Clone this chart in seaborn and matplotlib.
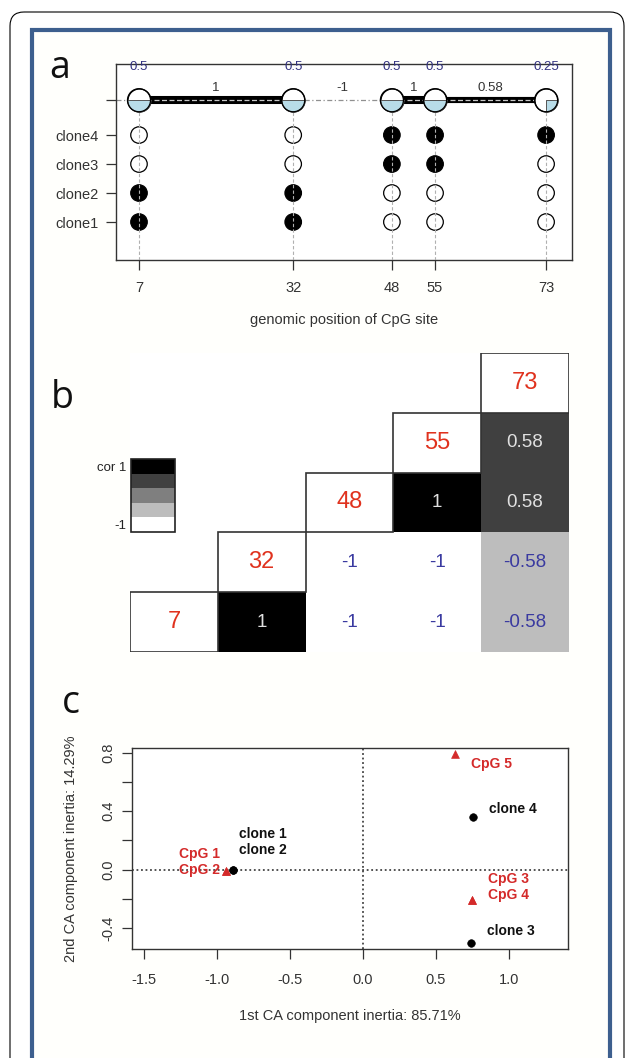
import numpy as np
import pandas as pd
import matplotlib.pyplot as plt
import seaborn as sns
from matplotlib.colors import ListedColormap
from matplotlib.markers import MarkerStyle
from matplotlib.path import Path
from matplotlib.patches import FancyBboxPatch, Rectangle

sns.set_style('white')
plt.rcParams['font.family'] = ['Liberation Sans', 'DejaVu Sans']

# ---- data ----
sites = [7, 32, 48, 55, 73]
clones = ['clone1', 'clone2', 'clone3', 'clone4']
# methylation state per clone (rows) and CpG site (columns)
meth = [[1, 1, 0, 0, 0],
        [1, 1, 0, 0, 0],
        [0, 0, 1, 1, 0],
        [0, 0, 1, 1, 1]]
meth_frac = [0.5, 0.5, 0.5, 0.5, 0.25]
neighbour_cor = [1, -1, 1, 0.58]
cor_matrix = [[1, 1, -1, -1, -0.58],
              [1, 1, -1, -1, -0.58],
              [-1, -1, 1, 1, 0.58],
              [-1, -1, 1, 1, 0.58],
              [-0.58, -0.58, 0.58, 0.58, 1]]

ca_clone_names = ['clone 1', 'clone 2', 'clone 3', 'clone 4']
ca_clone_x = [-0.89, -0.89, 0.74, 0.75]
ca_clone_y = [0.0, 0.0, -0.50, 0.36]
ca_cpg_names = ['CpG 1', 'CpG 2', 'CpG 3', 'CpG 4', 'CpG 5']
ca_cpg_x = [-0.935, -0.935, 0.745, 0.745, 0.63]
ca_cpg_y = [-0.01, -0.01, -0.21, -0.21, 0.79]
inertia = [85.71, 14.29]

# label positions in panel c (data coords, left aligned)
clone_lab_pos = [(-0.85, 0.247), (-0.85, 0.137), (0.85, -0.418), (0.863, 0.418)]
cpg_lab_pos = [(-1.26, 0.11), (-1.26, 0.0), (0.853, -0.062), (0.853, -0.171), (0.738, 0.727)]

W, H = 627, 1058
fig = plt.figure(figsize=(W / 100, H / 100), dpi=100)


def box(l, t, r, b):
    return [l / W, 1 - b / H, (r - l) / W, (b - t) / H]


# ---- background frames and panel letters ----
bg = fig.add_axes([0, 0, 1, 1], zorder=-5)
bg.set_xlim(0, W)
bg.set_ylim(H, 0)
bg.axis('off')
bg.add_patch(FancyBboxPatch((10, 12), 614, 1120, boxstyle='round,pad=0,rounding_size=14',
                            fill=False, ec='black', lw=0.8))
bg.add_patch(Rectangle((32, 30), 578, 1100, fc='#fffffc', ec='#3d5f8e', lw=3))
for letter, (lx, ly) in zip('abc', [(60, 78), (62, 408), (71, 713)]):
    bg.text(lx, ly, letter, fontsize=27, ha='center', va='baseline',
            family=['Open Sans', 'DejaVu Sans'], color='#111')

grey = '#333333'

# ---- panel a ----
ax = fig.add_axes(box(115.5, 64, 572, 260))
top = 5.2
xmin, xmax = 3.19, 77.2
rows = []
for i, c in enumerate(clones):
    for j, s in enumerate(sites):
        rows.append({'clone': c, 'row': i + 1, 'site': s, 'meth': meth[i][j]})
df_a = pd.DataFrame(rows)

sns.scatterplot(data=df_a, x='site', y='row', hue='meth', palette={0: 'white', 1: 'black'},
                s=141, edgecolor='black', linewidth=0.9, legend=False, ax=ax, zorder=3)
ax.vlines(sites, -0.31, top, colors='#b0b0b0', linestyles=(0, (3, 2)), lw=0.8, zorder=4)

ax.plot([xmin, sites[0]], [top, top], color='#909090', lw=0.9, ls=(0, (4, 2, 1, 2)), zorder=2.5)
for k, r in enumerate(neighbour_cor):
    x0, x1 = sites[k], sites[k + 1]
    if r > 0:
        ax.plot([x0, x1], [top, top], color='black', lw=2.5 + 3.3 * r,
                solid_capstyle='butt', zorder=2)
        ax.plot([x0, x1], [top, top], color='#c8c8c8', lw=0.9, ls=(0, (4, 2)), zorder=2.5)
    else:
        ax.plot([x0, x1], [top, top], color='#909090', lw=0.9, ls=(0, (4, 2, 1, 2)), zorder=2.5)
    ax.text((x0 + x1) / 2, 5.62, f'{r:g}', ha='center', va='center', fontsize=9.5, color=grey)

sns.scatterplot(x=sites, y=[top] * len(sites), s=275, color='white', edgecolor='black',
                linewidth=0.9, legend=False, ax=ax, zorder=5)
for s, f in zip(sites, meth_frac):
    wedge = MarkerStyle(Path.wedge(360 - 360 * f, 360))
    ax.scatter([s], [top], marker=wedge, s=275, c='#b8dce8', edgecolors='#555555',
               linewidths=0.7, zorder=6)
    ax.text(s, 6.33, f'{f:g}', ha='center', va='center', fontsize=9.5, color='#333380')
ax.scatter(sites, [top] * len(sites), s=275, facecolors='none', edgecolors='black',
           linewidths=0.9, zorder=7)

ax.set_xlim(xmin, xmax)
ax.set_ylim(-0.31, 6.45)
ax.set_xticks(sites)
ax.set_xticklabels([str(s) for s in sites])
ax.set_yticks([1, 2, 3, 4, top])
ax.set_yticklabels(clones + [''])
ax.tick_params(axis='both', direction='out', length=7, width=0.9, color=grey,
               labelcolor=grey, labelsize=10.5, bottom=True, left=True)
ax.tick_params(axis='x', pad=8)
ax.tick_params(axis='y', pad=5)
ax.set_xlabel('genomic position of CpG site', fontsize=10.5, color=grey, labelpad=13)
ax.set_ylabel('')
for sp in ax.spines.values():
    sp.set_color(grey)
    sp.set_linewidth(1)

# ---- panel b ----
axb = fig.add_axes(box(130, 353, 569, 652))
cax = fig.add_axes(box(131, 459, 175, 532))
n = len(sites)
cor_df = pd.DataFrame(cor_matrix, index=sites, columns=sites)
disp = cor_df.iloc[::-1]
row_site = np.arange(n)[::-1][:, None]
col_site = np.arange(n)[None, :]
mask = col_site <= row_site
grey_cmap = ListedColormap(['white', '#bdbdbd', '#7f7f7f', '#404040', 'black'])
sns.heatmap(disp, mask=mask, cmap=grey_cmap, vmin=-1, vmax=1, cbar_ax=cax,
            cbar_kws={'ticks': [-0.8, 0.8]}, xticklabels=False, yticklabels=False, ax=axb)
axb.set_xlabel('')
axb.set_ylabel('')
for t in range(n):
    for c in range(n):
        site_i = n - 1 - t
        if c == site_i:
            axb.add_patch(Rectangle((c, t), 1, 1, fc='white', ec=grey, lw=1.2, zorder=3))
            axb.text(c + 0.5, t + 0.5, str(sites[c]), ha='center', va='center',
                     fontsize=17, color='#e0321e', zorder=4)
        elif c > site_i:
            v = disp.iloc[t, c]
            col = '#e0e0e0' if v > 0 else '#3a3aa0'
            axb.text(c + 0.5, t + 0.5, f'{v:g}', ha='center', va='center',
                     fontsize=13.5, color=col, zorder=4)
for sp in axb.spines.values():
    sp.set_visible(False)

cb = axb.collections[0].colorbar
cb.outline.set_linewidth(1.2)
cb.outline.set_edgecolor('#222222')
cax.yaxis.set_ticks_position('left')
cax.set_yticklabels(['-1', 'cor 1'])
cax.tick_params(length=0, labelsize=9.5, pad=3, labelcolor='#222222')

# ---- panel c ----
axc = fig.add_axes(box(132, 748, 568, 949))
axc.axhline(0, color='#444444', ls=(0, (1, 1.5)), lw=1.3, zorder=1)
axc.axvline(0, color='#444444', ls=(0, (1, 1.5)), lw=1.3, zorder=1)
sns.scatterplot(x=ca_clone_x, y=ca_clone_y, color='black', marker='o', s=30,
                edgecolor='black', legend=False, ax=axc, zorder=3)
sns.scatterplot(x=ca_cpg_x, y=ca_cpg_y, color='#d42a2a', marker='^', s=32,
                edgecolor='#d42a2a', legend=False, ax=axc, zorder=3)
for name, (tx, ty) in zip(ca_clone_names, clone_lab_pos):
    axc.text(tx, ty, name, ha='left', va='center', fontsize=10, fontweight='bold', color='#111')
for name, (tx, ty) in zip(ca_cpg_names, cpg_lab_pos):
    axc.text(tx, ty, name, ha='left', va='center', fontsize=10, fontweight='bold', color='#d42a2a')

axc.set_xlim(-1.582, 1.404)
axc.set_ylim(-0.544, 0.834)
xt = np.arange(-1.5, 1.01, 0.5)
axc.set_xticks(xt)
axc.set_xticklabels([f'{v:.1f}' for v in xt])
yt = np.arange(-0.4, 0.81, 0.2)
axc.set_yticks(yt)
axc.set_yticklabels([f'{v:.1f}' if k % 2 == 0 else '' for k, v in enumerate(yt)],
                    rotation=90, va='center')
axc.tick_params(axis='both', direction='out', length=7, width=0.9, color=grey,
                labelcolor=grey, labelsize=10.5, bottom=True, left=True)
axc.tick_params(axis='x', pad=10)
axc.tick_params(axis='y', pad=5)
axc.set_xlabel(f'1st CA component inertia: {inertia[0]:.2f}%', fontsize=10.5, color=grey, labelpad=16)
axc.set_ylabel(f'2nd CA component inertia: {inertia[1]:.2f}%', fontsize=10.5, color=grey, labelpad=17)
for sp in axc.spines.values():
    sp.set_color(grey)
    sp.set_linewidth(1)

fig.savefig('out.png', dpi=100)
